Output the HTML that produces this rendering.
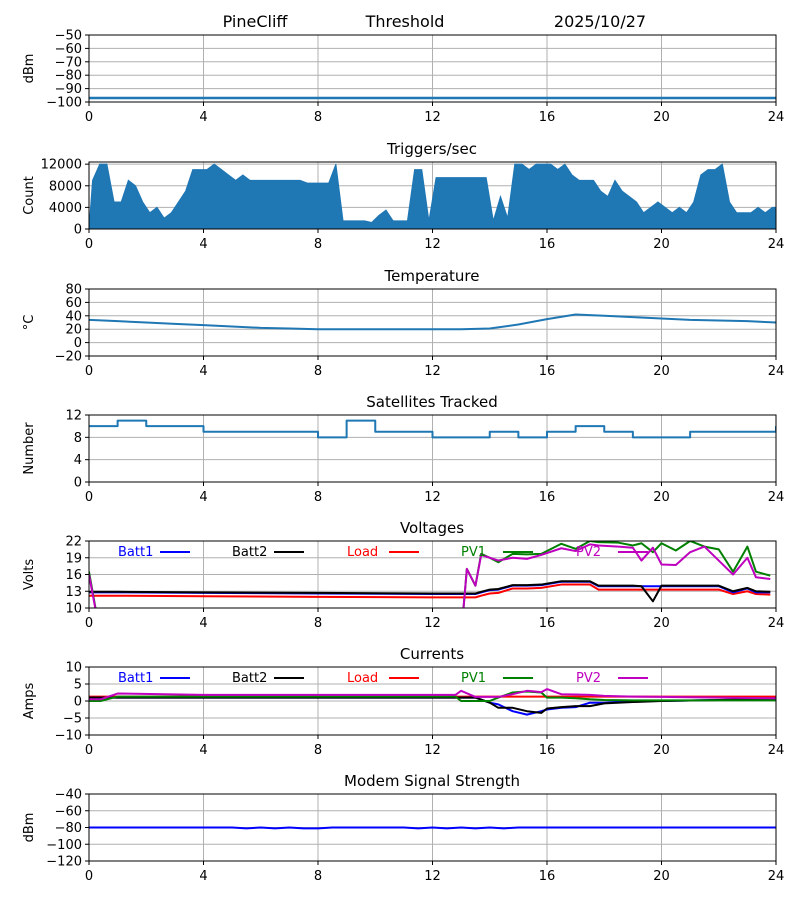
<!DOCTYPE html>
<html><head><meta charset="utf-8"><style>
body{margin:0;background:#fff;font-family:"Liberation Sans","DejaVu Sans",sans-serif}
svg text{font-family:"DejaVu Sans","Liberation Sans",sans-serif}
</style></head><body>
<svg id="c" width="800" height="900" xmlns="http://www.w3.org/2000/svg">
<text x="255" y="27" font-size="16" text-anchor="middle">PineCliff</text>
<text x="405" y="27" font-size="16" text-anchor="middle">Threshold</text>
<text x="600" y="27" font-size="16" text-anchor="middle">2025/10/27</text>
</svg>
<script>
const xTicks=[0,4,8,12,16,20,24];
const rssiT=[0,24]; const rssiV=[-97,-97];
const trigV=[9,12,12,5,5,9,8,5,3,4,2,3,5,7,11,11,11,12,11,10,9,10,9,9,9,9,9,9,9,9,8.5,8.5,8.5,8.5,12,1.5,1.5,1.5,1.5,1.2,2.5,3.5,1.5,1.5,1.5,11,11,1.5,9.5,9.5,9.5,9.5,9.5,9.5,9.5,9.5,1.5,6,2,12,12,11,12,12,12,11,12,10,9,9,9,7,6,9,7,6,5,3,4,5,4,3,4,3,5,10,11,11,12,5,3,3,3,4,3,4];
const tempV=[34,32,30,28,26,24,22,21,20,20,20,20,20,20,21,27,35,42,40,38,36,34,33,32,30];
const satV=[10,11,10,10,9,9,9,9,8,11,9,9,8,8,9,8,9,10,9,8,8,9,9,9,10];
const vT=[0,0.4,1,4,8,12,13,13.2,13.5,13.7,14,14.3,14.8,15.3,15.8,16.5,17,17.5,17.8,18.5,19,19.3,19.7,20,20.5,21,21.5,22,22.5,23,23.3,23.8];
const vBatt1=[12.8,12.8,12.8,12.7,12.6,12.5,12.5,12.5,12.5,12.8,13.2,13.3,14,14,14.1,14.7,14.7,14.7,13.9,13.9,13.9,13.9,13.9,13.9,13.9,13.9,13.9,13.9,12.8,13.5,12.8,12.8];
const vBatt2=[12.9,12.9,12.9,12.8,12.7,12.6,12.6,12.6,12.6,12.9,13.3,13.4,14.1,14.1,14.2,14.8,14.8,14.8,14,14,14,13.9,11.2,14,14,14,14,14,13,13.6,13,12.9];
const vLoad=[12.2,12.2,12.2,12.1,12,11.9,11.9,11.9,11.9,12.2,12.6,12.7,13.5,13.5,13.6,14.2,14.2,14.2,13.3,13.3,13.3,13.3,13.3,13.3,13.3,13.3,13.3,13.3,12.5,13,12.5,12.4];
const vPV1=[16.5,5,5,5,5,5,5,17,14,19.7,19,18.2,19.7,19.6,19.7,21.5,20.6,22,21.8,21.7,21.2,21.6,20,21.6,20.3,22,21,20.5,16.5,21,16.5,15.8];
const vPV2=[16,5,5,5,5,5,5,17,14,19.5,19,18.5,19,18.8,19.5,20.7,20.2,21.4,21.2,21,20.8,18.5,20.8,17.8,17.7,20,21,18.5,16,19,15.5,15.2];
const cT=[0,0.4,1,4,8,12,12.8,13,13.5,14,14.3,14.8,15.3,15.8,16,16.5,17,17.5,18,19,20,22,24];
const cBatt1=[1,1,1,1,1,1,1,1,1,-0.5,-1,-3,-4,-3,-2.5,-2,-1.8,-0.5,-0.5,0,0,0.3,0.5];
const cBatt2=[1,1,1,1,1,1,1,1,1,-0.5,-2,-2,-3,-3.5,-2.2,-1.8,-1.5,-1.5,-0.7,-0.3,0,0.3,0.8];
const cLoad=[1.3,1.3,1.3,1.3,1.3,1.3,1.3,1.3,1.3,1.3,1.3,1.3,1.3,1.3,1.3,1.3,1.3,1.3,1.3,1.3,1.3,1.3,1.3];
const cPV1=[0,0,1.3,1.3,1.3,1.3,1.3,0,0,0,1,2.5,2.8,2.5,1,1,0.8,0.5,0.3,0.2,0.2,0.2,0.2];
const cPV2=[0.5,0.5,2.2,1.8,1.8,1.8,1.8,3,1.2,1.2,1.2,2,3,2.6,3.5,2,1.9,1.8,1.5,1.3,1.2,1,0.8];
const modemT=[0,5,5.5,6,6.5,7,7.5,8,8.5,9,11,11.5,12,12.5,13,13.5,14,14.5,15,24];
const modemV=[-80,-80,-81,-80,-81,-80,-81,-81,-80,-80,-80,-81,-80,-81,-80,-81,-80,-81,-80,-80];

const svg=document.getElementById('c');const NS='http://www.w3.org/2000/svg';
const X0=89,X1=776;
function xs(t){return X0+t/24*(X1-X0);}
function fmt(v){return v<0?'\u2212'+(-v):String(v);}
function mk(tag,a,p){const e=document.createElementNS(NS,tag);for(const k in a)e.setAttribute(k,a[k]);(p||svg).appendChild(e);return e;}
let clipN=0;
function panel(name,top,bot,ymin,ymax,yTicks,ylabel,title){
  const g=mk('g',{});
  
  
  const ys=v=>bot-(v-ymin)/(ymax-ymin)*(bot-top);
  xTicks.forEach(t=>{const l=mk('line',{x1:xs(t),x2:xs(t),y1:top,y2:bot,stroke:'#b0b0b0','stroke-width':1},g);});
  yTicks.forEach(v=>{const l=mk('line',{x1:X0,x2:X1,y1:ys(v),y2:ys(v),stroke:'#b0b0b0','stroke-width':1},g);
    mk('line',{x1:X0-4,x2:X0,y1:ys(v),y2:ys(v),stroke:'#000'},g);
    const tx=mk('text',{x:X0-7,y:ys(v)+4.5,'font-size':13,'text-anchor':'end'},g);tx.textContent=fmt(v);
    });
  xTicks.forEach(t=>{mk('line',{x1:xs(t),x2:xs(t),y1:bot,y2:bot+4,stroke:'#000'},g);
    const tx=mk('text',{x:xs(t),y:bot+19,'font-size':13,'text-anchor':'middle'},g);tx.textContent=t;
    });
  const yl=mk('text',{x:0,y:0,'font-size':13,'text-anchor':'middle',transform:`translate(33,${(top+bot)/2}) rotate(-90)`},g);yl.textContent=ylabel;
  
  if(title){const tt=mk('text',{x:432,y:top-8,'font-size':15,'text-anchor':'middle'},g);tt.textContent=title;
    }
  const id='cp'+(clipN++);
  const cp=mk('clipPath',{id:id},g);mk('rect',{x:X0,y:top,width:X1-X0,height:bot-top},cp);
  const dg=mk('g',{'clip-path':`url(#${id})`},g);
  mk('rect',{x:X0,y:top,width:X1-X0,height:bot-top,fill:'none',stroke:'#000','stroke-width':1},g);
  return {ys,dg,g,top};
}
function line(p,T,V,color,w,step,name){
  let d='';T.forEach((t,i)=>{const x=xs(t),y=p.ys(V[i]);
    if(i==0)d+=`M${x},${y}`;else if(step)d+=`H${x}V${y}`;else d+=`L${x},${y}`;});
  if(step)d+=`H${xs(24)}`;
  const e=mk('path',{d:d,fill:'none',stroke:color,'stroke-width':w,'stroke-linejoin':'round'},p.dg);
  
}
function legend(p){
  const items=[['Batt1','#0000ff',118],['Batt2','#000',232],['Load','#ff0000',347],['PV1','#008000',461],['PV2','#bf00bf',576]];
  items.forEach(([n,c,x])=>{const t=mk('text',{x:x,y:p.top+15,'font-size':13,fill:c},p.g);t.textContent=n;
    
    mk('line',{x1:x+42,x2:x+72,y1:p.top+11,y2:p.top+11,stroke:c,'stroke-width':2},p.g);});
}
const hours=tempV.map((v,i)=>i);
let p=panel('rssi',35,102,-100,-50,[-50,-60,-70,-80,-90,-100],'dBm',null);
line(p,rssiT,rssiV,'#1f77b4',2.5,false,'rssi-line');
p=panel('triggers',162,229,0,12400,[0,4000,8000,12000],'Count','Triggers/sec');
let d=`M${xs(0)},${p.ys(0)}`;trigV.forEach((v,i)=>{d+=`L${xs(i*0.25+0.125)},${p.ys(v*1000)}`;});d+=`L${xs(24)},${p.ys(trigV[trigV.length-1]*1000)}L${xs(24)},${p.ys(0)}Z`;
let ar=mk('path',{d:d,fill:'#1f77b4',stroke:'#1f77b4','stroke-width':1},p.dg);

p=panel('temperature',289,356,-20,80,[-20,0,20,40,60,80],'°C','Temperature');
line(p,hours,tempV,'#1f77b4',2,false,'temperature-line');
p=panel('satellites',415,482,0,12,[0,4,8,12],'Number','Satellites Tracked');
line(p,hours,satV,'#1f77b4',2,true,'satellites-line');
p=panel('voltages',541,608,10,22,[10,13,16,19,22],'Volts','Voltages');
line(p,vT,vLoad,'#ff0000',2,false,'load-voltage-line');
line(p,vT,vBatt1,'#0000ff',2,false,'batt1-voltage-line');
line(p,vT,vBatt2,'#000',2,false,'batt2-voltage-line');
line(p,vT,vPV1,'#008000',2,false,'pv1-voltage-line');
line(p,vT,vPV2,'#bf00bf',2,false,'pv2-voltage-line');
legend(p);
p=panel('currents',667,735,-10,10,[-10,-5,0,5,10],'Amps','Currents');
line(p,cT,cLoad,'#ff0000',2,false,'load-current-line');
line(p,cT,cBatt1,'#0000ff',2,false,'batt1-current-line');
line(p,cT,cBatt2,'#000',2,false,'batt2-current-line');
line(p,cT,cPV1,'#008000',2,false,'pv1-current-line');
line(p,cT,cPV2,'#bf00bf',2,false,'pv2-current-line');
legend(p);
p=panel('modem',794,861,-120,-40,[-120,-100,-80,-60,-40],'dBm','Modem Signal Strength');
line(p,modemT,modemV,'#0000ff',2,false,'modem-signal-line');
</script>
</body></html>
